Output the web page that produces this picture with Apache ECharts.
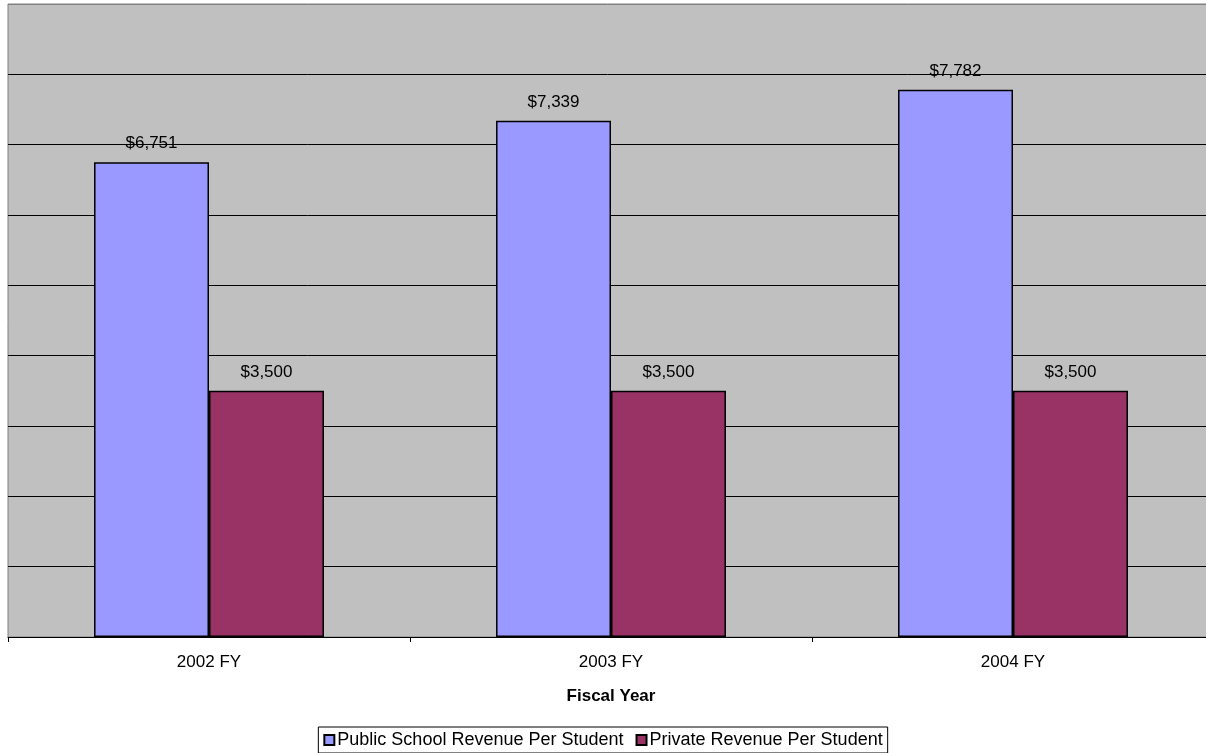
<!DOCTYPE html>
<html>
<head>
<meta charset="utf-8">
<script src="https://cdn.jsdelivr.net/npm/echarts@6/dist/echarts.min.js"></script>
<style>
html,body{margin:0;padding:0;background:#fff;}
#chart{width:1206px;height:753px;}
</style>
</head>
<body>
<div id="chart"></div>
<script>
const categories = ['2002 FY', '2003 FY', '2004 FY'];
const publicValues = [6751, 7339, 7782];
const privateValues = [3500, 3500, 3500];
const seriesNames = ['Public School Revenue Per Student', 'Private Revenue Per Student'];

const chart = echarts.init(document.getElementById('chart'));
const fmt = p => '$' + p.value.toLocaleString('en-US');
const labelStyle = {
  show: true, position: 'top', distance: 10, formatter: fmt,
  color: '#000', fontFamily: 'Liberation Sans, Arial, sans-serif', fontSize: 17
};
chart.setOption({
  animation: false,
  textStyle: { fontFamily: 'Liberation Sans, Arial, sans-serif' },
  grid: {
    left: 8, top: 4, width: 1206, height: 633,
    outerBoundsMode: 'none', containLabel: false,
    show: true, backgroundColor: '#C0C0C0', borderColor: '#808080', borderWidth: 1
  },
  legend: {
    bottom: 0, left: 'center',
    data: seriesNames,
    borderColor: '#000', borderWidth: 1, padding: [4, 5, 4, 5],
    itemWidth: 10, itemHeight: 10, itemGap: 12,
    icon: 'rect',
    textStyle: { fontSize: 18, color: '#000', padding: [0, 0, 0, -2] }
  },
  xAxis: {
    type: 'category', data: categories,
    name: 'Fiscal Year', nameLocation: 'middle', nameGap: 51,
    nameTextStyle: { fontWeight: 'bold', fontSize: 17, color: '#000' },
    axisLine: { lineStyle: { color: '#000', width: 1 } },
    axisTick: { show: true, alignWithLabel: false, length: 5, lineStyle: { color: '#000' } },
    axisLabel: { fontSize: 17, color: '#000', margin: 17 }
  },
  yAxis: {
    type: 'value', min: 0, max: 9000, interval: 1000,
    axisLabel: { show: false }, axisLine: { show: false }, axisTick: { show: false },
    splitLine: { show: true, lineStyle: { color: ['#000','#000','#000','#000','#000','#000','#000','#000','#000','#808080'], width: 1 } }
  },
  series: [
    {
      name: seriesNames[0], type: 'bar', data: publicValues,
      barGap: '0%', barCategoryGap: '42.8%',
      itemStyle: { color: '#9999FF', borderColor: '#000', borderWidth: 1.5 },
      label: labelStyle
    },
    {
      name: seriesNames[1], type: 'bar', data: privateValues,
      barGap: '0%', barCategoryGap: '42.8%',
      itemStyle: { color: '#993366', borderColor: '#000', borderWidth: 1.5 },
      label: labelStyle
    }
  ]
});
</script>
</body>
</html>
